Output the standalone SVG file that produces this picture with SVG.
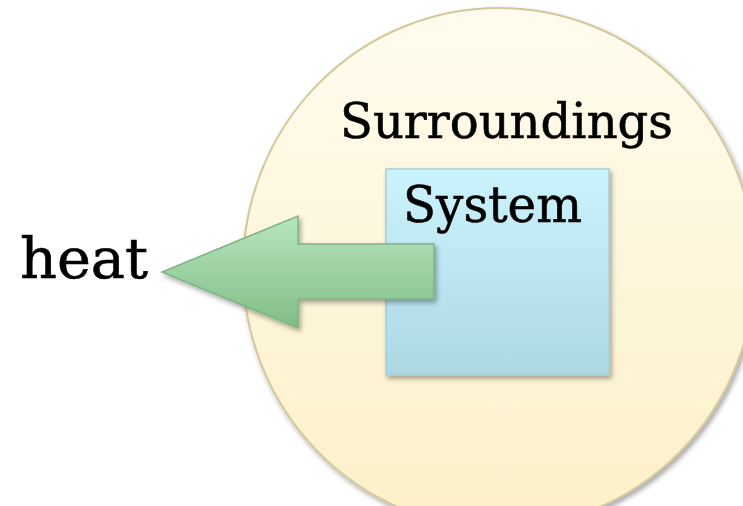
<svg xmlns="http://www.w3.org/2000/svg" width="743" height="506" viewBox="0 0 743 506">
<defs>
<style>
.lbl{font-family:"DejaVu Serif","Liberation Serif",serif;fill:#000;stroke:#000;stroke-width:0.6;}
</style>
<linearGradient id="gSur" x1="0" y1="0" x2="0" y2="1">
<stop offset="0" stop-color="#fffcef"/>
<stop offset="1" stop-color="#fdf0c8"/>
</linearGradient>
<linearGradient id="gSys" x1="0" y1="0" x2="0" y2="1">
<stop offset="0" stop-color="#cbf3fd"/>
<stop offset="1" stop-color="#acd8e4"/>
</linearGradient>
<linearGradient id="gArr" x1="0" y1="0" x2="0" y2="1">
<stop offset="0" stop-color="#b8e5c0"/>
<stop offset="1" stop-color="#80bd86"/>
</linearGradient>
<filter id="sh" x="-10%" y="-10%" width="130%" height="130%">
<feDropShadow dx="2" dy="3" stdDeviation="2.5" flood-color="#000" flood-opacity="0.35"/>
</filter>
</defs>
<rect width="743" height="506" fill="#fff"/>
<g id="surroundings">
<ellipse cx="499" cy="268" rx="256" ry="260" fill="url(#gSur)" stroke="#d3c89a" stroke-width="2" filter="url(#sh)"/>
<text class="lbl" x="340" y="138" font-size="48" textLength="333" lengthAdjust="spacingAndGlyphs">Surroundings</text>
</g>
<g id="system">
<rect x="386" y="169" width="223" height="206" fill="url(#gSys)" stroke="#a5cfd9" stroke-width="1.5" filter="url(#sh)"/>
<text class="lbl" x="403" y="222" font-size="50" textLength="179" lengthAdjust="spacingAndGlyphs">System</text>
</g>
<g id="connectors">
<polygon points="434,244 298,244 298,216 162,272 298,328 298,299 434,299" fill="url(#gArr)" stroke="#7bb582" stroke-width="1.5" stroke-linejoin="miter" filter="url(#sh)"/>
</g>
<g id="heat">
<text class="lbl" x="20" y="278" font-size="56" textLength="128" lengthAdjust="spacingAndGlyphs">heat</text>
</g>
</svg>
